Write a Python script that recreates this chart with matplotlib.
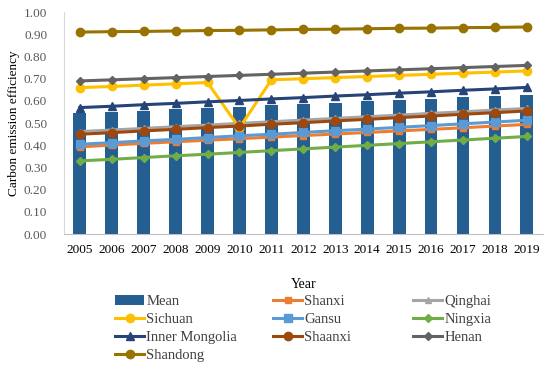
import matplotlib
matplotlib.use("Agg")
import matplotlib.pyplot as plt

years = list(range(2005, 2020))
mean = [0.545, 0.550, 0.556, 0.562, 0.568, 0.574, 0.580, 0.586, 0.592, 0.598,
        0.604, 0.610, 0.616, 0.622, 0.628]
shanxi = [0.393, 0.401, 0.409, 0.416, 0.423, 0.430, 0.437, 0.444, 0.451, 0.458,
          0.465, 0.472, 0.479, 0.487, 0.494]
qinghai = [0.462, 0.469, 0.476, 0.484, 0.491, 0.499, 0.506, 0.514, 0.521, 0.529,
           0.536, 0.544, 0.551, 0.559, 0.566]
sichuan = [0.660, 0.665, 0.671, 0.677, 0.683, 0.478, 0.695, 0.700, 0.705, 0.710,
           0.715, 0.720, 0.725, 0.730, 0.735]
gansu = [0.405, 0.412, 0.420, 0.427, 0.435, 0.443, 0.450, 0.458, 0.466, 0.473,
         0.481, 0.489, 0.497, 0.505, 0.513]
ningxia = [0.330, 0.337, 0.345, 0.353, 0.360, 0.368, 0.376, 0.384, 0.392, 0.400,
           0.408, 0.416, 0.424, 0.432, 0.440]
inner_mongolia = [0.570, 0.576, 0.583, 0.589, 0.596, 0.602, 0.609, 0.615, 0.622, 0.628,
                  0.635, 0.641, 0.648, 0.654, 0.661]
shaanxi = [0.450, 0.457, 0.465, 0.472, 0.480, 0.487, 0.495, 0.502, 0.510, 0.517,
           0.525, 0.532, 0.540, 0.547, 0.555]
henan = [0.690, 0.695, 0.700, 0.705, 0.710, 0.715, 0.720, 0.725, 0.730, 0.735,
         0.740, 0.745, 0.750, 0.755, 0.760]
shandong = [0.910, 0.912, 0.913, 0.915, 0.917, 0.918, 0.920, 0.922, 0.923, 0.925,
            0.927, 0.928, 0.930, 0.931, 0.933]

plt.rcParams["font.family"] = ["Liberation Serif", "DejaVu Serif"]

W, H = 550, 367
fig = plt.figure(figsize=(W / 100, H / 100), dpi=100)
ax = fig.add_axes([0.116, 0.362, 0.871, 0.605])

x = list(range(len(years)))
h = {}
h["Mean"] = ax.bar(x, mean, width=0.4, color="#255E91", zorder=1)

series = [
    ("Shanxi", shanxi, "#ED7D31", "s", 4),
    ("Qinghai", qinghai, "#A5A5A5", "^", 5),
    ("Sichuan", sichuan, "#FFC000", "o", 6),
    ("Gansu", gansu, "#5B9BD5", "s", 6),
    ("Ningxia", ningxia, "#70AD47", "D", 4),
    ("Inner Mongolia", inner_mongolia, "#264478", "^", 6),
    ("Shaanxi", shaanxi, "#9E480E", "o", 6),
    ("Henan", henan, "#636363", "D", 4),
    ("Shandong", shandong, "#997300", "o", 6),
]
for name, vals, col, mk, ms in series:
    h[name], = ax.plot(x, vals, color=col, lw=2.2, marker=mk, ms=ms, zorder=2)

ax.set_xlim(-0.5, len(years) - 0.5)
ax.set_ylim(0, 1.0)
ax.set_yticks([i / 10 for i in range(11)])
ax.set_yticklabels([f"{i / 10:.2f}" for i in range(11)])
ax.set_xticks(x)
ax.set_xticklabels([str(y) for y in years])
ax.tick_params(axis="y", length=0, labelsize=9.5, labelcolor="#595959", pad=12)
ax.tick_params(axis="x", length=0, labelsize=9.5, labelcolor="black", pad=7)
for s in ("top", "right"):
    ax.spines[s].set_visible(False)
ax.spines["left"].set_color("#D9D9D9")
ax.spines["bottom"].set_color("#BFBFBF")
ax.set_xlabel("Year", fontsize=10, labelpad=16)
ax.set_ylabel("Carbon emission efficiency", fontsize=9.5, labelpad=3)

# three legend columns, placed like the original
columns = [
    (115, ["Mean", "Sichuan", "Inner Mongolia", "Shandong"]),
    (273, ["Shanxi", "Gansu", "Shaanxi"]),
    (413, ["Qinghai", "Ningxia", "Henan"]),
]
for px, names in columns:
    leg = fig.legend([h[k] for k in names], names, loc="upper left",
                     bbox_to_anchor=(px / W, 1 - 295 / H), frameon=False,
                     fontsize=10.5, handlelength=2.0, handletextpad=0.15,
                     labelspacing=0.33, borderpad=0, borderaxespad=0)
    for t in leg.get_texts():
        t.set_color("#404040")

fig.savefig("out.png", dpi=100)
